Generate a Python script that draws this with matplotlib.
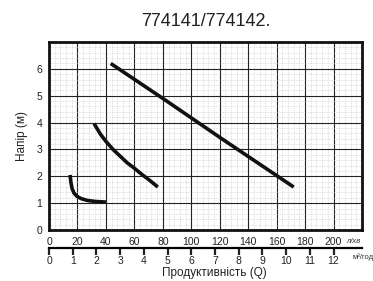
import numpy as np
import matplotlib.pyplot as plt

plt.rcParams['font.family'] = ['Liberation Sans', 'DejaVu Sans']

# pump curves: flow (l/min) vs head (m)
q_small = [14.8, 15.3, 16.2, 17.5, 19.5, 22.5, 27, 33, 40]
h_small = [2.05, 1.8, 1.55, 1.38, 1.26, 1.17, 1.1, 1.06, 1.04]

q_mid = [31.7, 36, 40, 45, 50, 55, 60, 65, 70, 76.5]
h_mid = [3.96, 3.58, 3.3, 3.0, 2.75, 2.5, 2.3, 2.08, 1.88, 1.6]

q_big = [43.4, 80, 120, 172]
h_big = [6.2, 4.9, 3.45, 1.6]

lmin_ticks = [0, 20, 40, 60, 80, 100, 120, 140, 160, 180, 200]
m3h_ticks = list(range(0, 13))
head_ticks = [0, 1, 2, 3, 4, 5, 6]

fig = plt.figure(figsize=(3.73, 2.81), dpi=100)
ax = fig.add_axes([0.1314, 0.1815, 0.8391, 0.669])

ax.set_xlim(0, 220)
ax.set_ylim(0, 7)

# fine dotted grid + dark major grid
ax.set_xticks(np.arange(0, 221, 4), minor=True)
ax.set_yticks(np.arange(0, 7.01, 0.2), minor=True)
ax.grid(which='minor', color='#c4c4c4', linestyle=(0, (1, 1.5)), linewidth=0.5)
ax.set_xticks(np.arange(0, 221, 20))
ax.set_yticks(head_ticks)
ax.grid(which='major', color='#222222', linewidth=0.8)
ax.set_axisbelow(True)

ax.plot(q_small, h_small, color='#111111', lw=2.6, solid_capstyle='butt')
ax.plot(q_mid, h_mid, color='#111111', lw=2.6, solid_capstyle='butt')
ax.plot(q_big, h_big, color='#111111', lw=2.6, solid_capstyle='butt')

for s in ax.spines.values():
    s.set_linewidth(2)
    s.set_color('#111111')

ax.set_xticks(lmin_ticks)
ax.set_xticklabels([str(t) for t in lmin_ticks])
ax.tick_params(axis='x', which='both', length=0, labelsize=7.5, pad=5, colors='#222222')
ax.tick_params(axis='y', which='both', length=0, labelsize=7.5, pad=5, colors='#222222')
ax.set_ylabel('Напір (м)', fontsize=8.5, color='#222222', labelpad=6)

# m3/h scale below
sec = ax.secondary_xaxis('bottom', functions=(lambda q: q * 60 / 1000, lambda m: m * 1000 / 60))
sec.spines['bottom'].set_position(('outward', 13))
sec.spines['bottom'].set_linewidth(1.6)
sec.set_xticks(m3h_ticks)
sec.tick_params(axis='x', direction='out', length=5, width=1.6, labelsize=7.5, pad=0.5, colors='#222222')

fig.text(0.949, 0.139, 'л/хв', fontsize=5.5, style='italic', ha='center', va='center', color='#333333')
fig.text(0.973, 0.086, 'м³/год', fontsize=5.5, ha='center', va='center', color='#333333')

fig.text(0.574, 0.03, 'Продуктивність (Q)', fontsize=8.5, ha='center', va='center', color='#222222')
fig.text(0.552, 0.925, '774141/774142.', fontsize=13, ha='center', va='center', color='#222222')

fig.savefig('out.png', dpi=100)
